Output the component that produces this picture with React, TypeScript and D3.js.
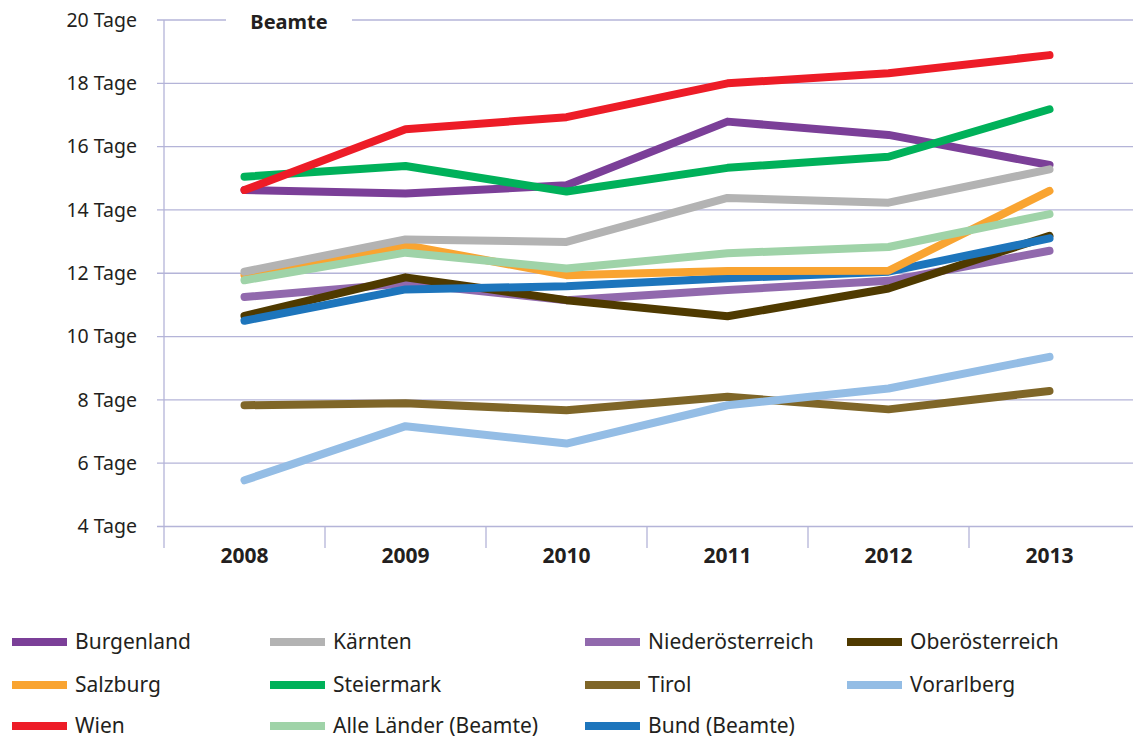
import React from "react";
import * as d3 from "d3";

const years = ["2008", "2009", "2010", "2011", "2012", "2013"];
const yTicks = [4, 6, 8, 10, 12, 14, 16, 18, 20];

const burgenland = [14.63, 14.52, 14.78, 16.79, 16.37, 15.42];
const kaernten = [12.05, 13.07, 12.99, 14.38, 14.23, 15.28];
const niederoesterreich = [11.25, 11.68, 11.15, 11.47, 11.76, 12.71];
const oberoesterreich = [10.65, 11.87, 11.15, 10.64, 11.52, 13.18];
const salzburg = [11.94, 12.89, 11.94, 12.07, 12.08, 14.6];
const steiermark = [15.05, 15.39, 14.58, 15.33, 15.68, 17.18];
const tirol = [7.83, 7.89, 7.67, 8.1, 7.7, 8.28];
const vorarlberg = [5.46, 7.17, 6.62, 7.83, 8.36, 9.36];
const wien = [14.63, 16.55, 16.93, 18.0, 18.32, 18.89];
const alleLaender = [11.78, 12.65, 12.15, 12.63, 12.83, 13.87];
const bund = [10.5, 11.49, 11.59, 11.84, 12.05, 13.1];

const seriesNames = [
  "Burgenland", "Kärnten", "Niederösterreich", "Oberösterreich",
  "Salzburg", "Steiermark", "Tirol", "Vorarlberg",
  "Wien", "Alle Länder (Beamte)", "Bund (Beamte)",
];
const seriesValues = [
  burgenland, kaernten, niederoesterreich, oberoesterreich,
  salzburg, steiermark, tirol, vorarlberg, wien, alleLaender, bund,
];
const seriesColors = [
  "#7b3f98", "#b3b3b3", "#9169ad", "#4f3a00",
  "#f9a431", "#00b15a", "#7f6628", "#94bde5",
  "#ed1c27", "#9fd3a8", "#1d75bc",
];
// drawing order (indices into series)
const drawOrder = [6, 7, 2, 3, 10, 4, 9, 0, 1, 5, 8];

const FONT = "'Noto Sans', sans-serif";

export default function App() {
  const W = 1134, H = 740;
  const x0 = 164, x1 = 1133;
  const yTop = 20, yBot = 526.5;
  const x = d3.scaleBand().domain(years).range([x0, x0 + 6 * 161]);
  const y = d3.scaleLinear().domain([4, 20]).range([yBot, yTop]);
  const line = d3.line<number>()
    .x((_, i) => (x(years[i]) as number) + x.bandwidth() / 2)
    .y((d) => y(d));
  const grid = "#b4b4d8";

  const legendCols = [12, 270, 585, 847];
  const legendRows = [642, 685, 726];

  return (
    <svg width={W} height={H} style={{ position: "absolute", left: 0, top: 0 }}>
      <rect width={W} height={H} fill="#fff" />
      {yTicks.map((t) => (
        <g key={t}>
          <line x1={157} x2={x1} y1={y(t)} y2={y(t)} stroke={grid} strokeWidth={1.3} />
          <text x={137} y={y(t)} dy="0.35em" textAnchor="end" fontFamily={FONT} fontSize={19.5} fill="#231f20">
            {t} Tage
          </text>
        </g>
      ))}
      <line x1={x0} x2={x0} y1={yTop} y2={548} stroke={grid} strokeWidth={1.3} />
      {years.map((yr, i) => (
        <g key={yr}>
          {i > 0 && (
            <line x1={x(yr)} x2={x(yr)} y1={yBot} y2={548} stroke={grid} strokeWidth={1.3} />
          )}
          <text x={(x(yr) as number) + x.bandwidth() / 2} y={556} dy="0.35em" textAnchor="middle"
            fontFamily={FONT} fontWeight="bold" fontSize={21} fill="#231f20">
            {yr}
          </text>
        </g>
      ))}
      <rect x={226} y={8} width={126} height={26} fill="#fff" />
      <text x={289} y={22} dy="0.35em" textAnchor="middle" fontFamily={FONT} fontWeight="bold" fontSize={20} fill="#231f20">
        Beamte
      </text>
      {drawOrder.map((k) => (
        <path key={seriesNames[k]} d={line(seriesValues[k]) || ""} fill="none"
          stroke={seriesColors[k]} strokeWidth={8} strokeLinecap="round" strokeLinejoin="round" />
      ))}
      {seriesNames.map((n, k) => {
        const cx = legendCols[k % 4];
        const cy = legendRows[Math.floor(k / 4)];
        return (
          <g key={n}>
            <rect x={cx} y={cy - 4} width={55} height={8} fill={seriesColors[k]} />
            <text x={cx + 63} y={cy} dy="0.35em" fontFamily={FONT} fontSize={21} fill="#231f20">
              {n}
            </text>
          </g>
        );
      })}
    </svg>
  );
}
